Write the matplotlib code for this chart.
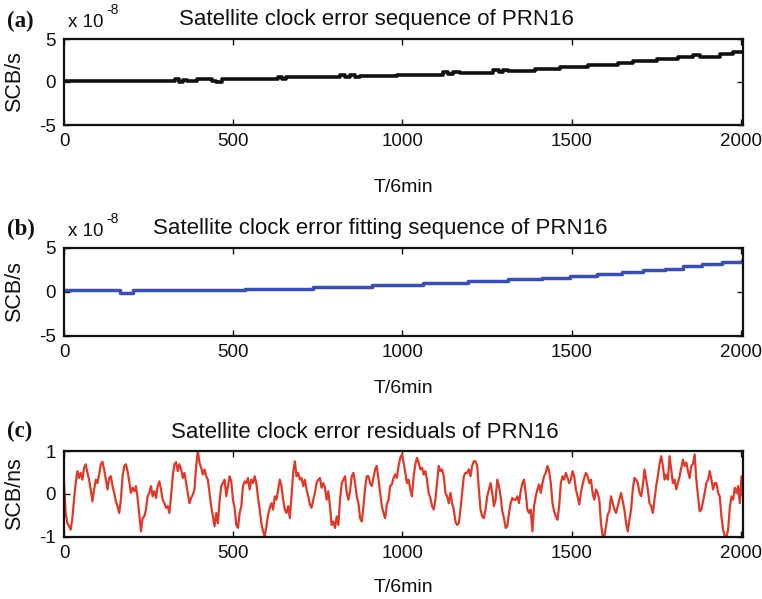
import numpy as np
import matplotlib
matplotlib.use("Agg")
import matplotlib.pyplot as plt

plt.rcParams['font.family'] = ['Liberation Sans', 'DejaVu Sans']
plt.rcParams['axes.unicode_minus'] = False

W, H = 762, 599

# ---------------- data ----------------
# (a) satellite clock error sequence (units of 1e-8 s), step breakpoints
a_t = [0, 328, 340, 352, 364, 372, 393, 437, 450, 467, 632, 645, 656, 668,
       815, 830, 845, 860, 875, 885, 984, 1120, 1135, 1150, 1170, 1268, 1285,
       1298, 1312, 1392, 1466, 1549, 1637, 1681, 1752, 1815, 1859, 1879, 1939,
       1977, 2012]
a_val = [0.12, 0.30, 0.05, 0.25, 0.08, 0.15, 0.31, 0.10, 0.02, 0.31, 0.55,
         0.35, 0.60, 0.54, 0.80, 0.62, 0.78, 0.60, 0.72, 0.70, 0.81, 1.20,
         0.98, 1.15, 1.09, 1.40, 1.20, 1.38, 1.28, 1.51, 1.78, 2.02, 2.21,
         2.40, 2.64, 2.87, 3.10, 2.95, 3.22, 3.49, 3.49]

# (b) fitted sequence (units of 1e-8 s)
b_t = [0, 165, 204, 535, 736, 909, 1062, 1194, 1313, 1412, 1495, 1574, 1648,
       1711, 1776, 1829, 1885, 1944, 2004, 2012]
b_val = [0.23, -0.08, 0.23, 0.34, 0.57, 0.80, 1.03, 1.26, 1.45, 1.64, 1.83,
         2.06, 2.29, 2.48, 2.67, 2.90, 3.13, 3.40, 3.59, 3.59]

# (c) residuals (ns), samples read left to right across the panel
res = [
    0.25, -0.45, -0.69, -0.76, -0.84, -0.57, -0.14, 0.25, 0.53, 0.37,
    0.49, 0.33, 0.61, 0.69, 0.49, 0.33, 0.10, -0.18, 0.10, 0.33,
    0.25, 0.45, 0.69, 0.75, 0.57, 0.33, 0.10, 0.37, 0.41, 0.18,
    0.02, -0.18, -0.29, -0.45, -0.14, 0.41, 0.65, 0.69, 0.53, 0.29,
    0.02, 0.14, 0.06, 0.18, -0.10, -0.49, -0.88, -0.57, -0.53, -0.37,
    -0.06, 0.02, 0.18, -0.06, 0.06, -0.10, 0.18, 0.29, 0.10, -0.14,
    -0.22, -0.33, -0.29, -0.45, -0.06, 0.41, 0.69, 0.74, 0.53, 0.69,
    0.57, 0.37, 0.49, 0.25, 0.02, -0.22, -0.10, -0.02, 0.10, 0.65, 1.0,
    0.73, 0.61, 0.45, 0.57, 0.41, 0.33, 0.02, -0.29, -0.53, -0.76,
    -0.45, -0.69, -0.18, 0.18, 0.25, 0.33, -0.06, 0.18, 0.41, 0.29,
    -0.14, -0.33, -0.73, -0.80, -0.45, -0.29, 0.18, 0.29, 0.25, 0.37,
    0.10, 0.33, 0.25, 0.41, 0.25, -0.10, -0.37, -0.69, -0.88, -1.0,
    -0.76, -0.49, -0.33, -0.22, -0.37, -0.06, -0.14, 0.10, 0.33, 0.18,
    -0.14, -0.37, -0.45, -0.29, -0.57, -0.06, 0.49, 0.76, 0.41, 0.49,
    0.33, 0.37, 0.18, 0.33, 0.10, -0.06, -0.25, -0.33, -0.14, 0.02,
    0.25, 0.33, 0.37, 0.14, 0.25, 0.14, -0.14, 0.06, -0.29, -0.73,
    -0.65, -0.80, -0.53, -0.73, -0.14, 0.25, 0.33, 0.41, 0.02, -0.14,
    0.06, 0.41, 0.49, 0.25, -0.06, -0.22, -0.57, -0.65, -0.29, 0.14,
    0.41, 0.41, 0.25, 0.18, 0.37, 0.57, 0.65, 0.33, 0.02, -0.29,
    -0.45, -0.57, -0.25, -0.14, 0.18, 0.22, 0.37, 0.45, 0.37, 0.65,
    0.84, 0.92, 0.73, 0.49, 0.25, 0.33, 0.10, -0.06, 0.41, 0.69,
    0.84, 0.73, 0.57, 0.61, 0.45, 0.53, 0.33, 0.02, -0.10, -0.29,
    -0.37, -0.14, 0.25, 0.65, 0.53, 0.57, 0.41, 0.02, -0.06, -0.22,
    0.02, -0.22, -0.37, -0.65, -0.73, -0.69, -0.37, 0.02, 0.41, 0.49, 0.49,
    0.57, 0.41, 0.65, 0.76, 0.76, 0.65, 0.10, -0.37, -0.53, -0.57,
    -0.37, -0.06, 0.10, 0.25, 0.02, -0.29, -0.14, 0.33, 0.18, -0.06,
    -0.41, -0.57, -0.80, -0.76, -0.45, -0.22, -0.10, -0.14, -0.14, -0.06,
    -0.22, 0.06, 0.25, 0.33, 0.02, -0.37, -0.45, -0.37, -0.88, -0.29,
    -0.06, 0.10, 0.22, 0.02, 0.25, 0.41, 0.49, 0.65, 0.53, 0.25,
    -0.22, -0.41, -0.53, -0.61, -0.29, 0.25, 0.41, 0.33, 0.49, 0.37,
    0.25, 0.33, 0.53, 0.41, 0.10, -0.06, -0.25, 0.02, 0.22, 0.37,
    0.49, 0.41, 0.25, 0.33, 0.02, -0.14, 0.10, 0.02, -0.14, -0.69, -1.0,
    -1.0, -0.76, -0.49, -0.41, -0.06, -0.22, -0.37, -0.45, -0.29, -0.14,
    0.02, -0.18, -0.37, -0.69, -0.88, -0.61, -0.37, 0.10, 0.37, 0.33,
    0.25, 0.02, -0.06, 0.18, 0.57, 0.33, 0.10, -0.22, -0.29, -0.45,
    -0.14, 0.18, 0.41, 0.69, 0.88, 0.65, 0.33, 0.45, 0.33, 0.88,
    0.57, 0.25, 0.33, 0.10, 0.25, 0.41, 0.61, 0.80, 0.65, 0.73,
    0.53, 0.37, 0.65, 0.69, 0.92, 0.33, -0.06, -0.41, -0.37, -0.18,
    0.02, 0.25, 0.33, 0.53, 0.33, 0.10, 0.25, 0.25, 0.02, -0.06,
    -0.53, -0.84, -1.0, -1.0, -0.84, -0.33, -0.06, -0.14, 0.14, 0.02,
    0.18, -0.22, 0.41, -0.10,
]
res_t = np.linspace(0, 2007, len(res))  # sample index of the residual series

x_ticks = [0, 500, 1000, 1500, 2000]
x_max = 2005

titles = ["Satellite clock error sequence of PRN16",
          "Satellite clock error fitting sequence of PRN16",
          "Satellite clock error residuals of PRN16"]
ylabels = ["SCB/s", "SCB/s", "SCB/ns"]
panel_tags = ["(a)", "(b)", "(c)"]

# ---------------- figure ----------------
fig = plt.figure(figsize=(W / 100, H / 100), dpi=100)


def fx(px):
    return px / W


def fy(py):
    return 1 - py / H


def make_axes(top, bottom, left=64, right=742.5):
    return fig.add_axes([fx(left), fy(bottom), fx(right) - fx(left), fy(top) - fy(bottom)])


ax_a = make_axes(39, 125)
ax_b = make_axes(248, 336)
ax_c = make_axes(451, 536.5)

ax_a.step(a_t, a_val, where='post', color='#111111', lw=2.6)
ax_b.step(b_t, b_val, where='post', color='#3B4FAE', lw=2.5)
ax_c.plot(res_t, res, color='#DE3A2A', lw=1.6)

for ax, yl in zip([ax_a, ax_b, ax_c], [(-5, 5), (-5, 5), (-1, 1)]):
    ax.set_xlim(0, x_max)
    ax.set_ylim(*yl)
    ax.set_xticks(x_ticks)
    ax.set_yticks([yl[0], 0, yl[1]])
    ax.tick_params(direction='in', length=4.5, width=1.0, top=True, right=True,
                   labelsize=13.5, pad=6, colors='#111111')
    for s in ax.spines.values():
        s.set_linewidth(1.6)
        s.set_color('#111111')

# titles, labels (positions in pixels)
title_pos = [(376, 25), (380, 234), (365, 438)]
tag_pos = [(7, 27), (7, 235), (7, 437)]
xlabel_y = [192, 393, 592]
ylabel_y = [82, 292, 494]
for i in range(3):
    fig.text(fx(title_pos[i][0]), fy(title_pos[i][1]), titles[i], ha='center',
             va='baseline', fontsize=16, color='#111111')
    fig.text(fx(tag_pos[i][0]), fy(tag_pos[i][1]), panel_tags[i], ha='left',
             va='baseline', fontsize=16.5, fontweight='bold',
             family=['Liberation Serif'], color='#111111')
    fig.text(fx(403), fy(xlabel_y[i]), "T/6min", ha='center', va='baseline',
             fontsize=14, color='#111111')
    fig.text(fx(15), fy(ylabel_y[i]), ylabels[i], ha='center', va='center',
             rotation=90, fontsize=15.5, color='#111111')

# exponent markers
for by in [27, 236]:
    fig.text(fx(68), fy(by), "x 10", ha='left', va='baseline', fontsize=13.5,
             color='#111111')
    fig.text(fx(106), fy(by - 13), "-8", ha='left', va='baseline', fontsize=10,
             color='#111111')

fig.savefig("out.png", dpi=100)
